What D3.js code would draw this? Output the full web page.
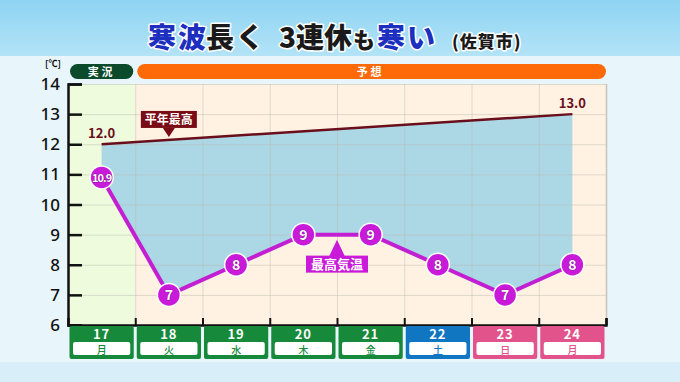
<!DOCTYPE html>
<html>
<head>
<meta charset="utf-8">
<script src="https://cdn.jsdelivr.net/npm/d3@7"></script>
<style>
  body { margin: 0; }
  svg { display: block; font-family: "Noto Sans CJK JP", "Noto Sans", sans-serif; }
</style>
</head>
<body>
<svg id="chart" width="680" height="382"></svg>
<script>
// data
const dates = ["17", "18", "19", "20", "21", "22", "23", "24"];
const weekdays = ["月", "火", "水", "木", "金", "土", "日", "月"];
const dayKind = ["week", "week", "week", "week", "week", "sat", "hol", "hol"];
const maxTemp = [10.9, 7, 8, 9, 9, 8, 7, 8];
const maxLabels = ["10.9", "7", "8", "9", "9", "8", "7", "8"];
const normalHigh = [{d: "17", v: 12.0}, {d: "24", v: 13.0}];
const yTicks = [6, 7, 8, 9, 10, 11, 12, 13, 14];

const svg = d3.select("#chart");
const W = 680, H = 382;
const pLeft = 68, pRight = 606, pTop = 84, pBottom = 325;

const defs = svg.append("defs");
const grad = defs.append("linearGradient").attr("id", "sky").attr("x1", 0).attr("y1", 0).attr("x2", 0).attr("y2", 1);
grad.append("stop").attr("offset", "0%").attr("stop-color", "#8ed4f2");
grad.append("stop").attr("offset", "100%").attr("stop-color", "#b3e3f7");

// background
svg.append("rect").attr("width", W).attr("height", H).attr("fill", "#e8f6fc");
svg.append("rect").attr("width", W).attr("height", 56).attr("fill", "url(#sky)");
svg.append("rect").attr("y", 362).attr("width", W).attr("height", 20).attr("fill", "#d8eef9");

// title (each piece placed where it sits in the picture)
const parts = [
  {t: "寒波", c: "#1c2fbf", s: 28, x: 148, ls: 2},
  {t: "長く", c: "#1a1a1a", s: 28, x: 206, ls: 2},
  {t: "3連休", c: "#1a1a1a", s: 28, x: 279, ls: 0},
  {t: "も", c: "#1a1a1a", s: 22, x: 353, ls: 0},
  {t: "寒い", c: "#1c2fbf", s: 28, x: 377, ls: 2},
  {t: "(佐賀市)", c: "#1a1a1a", s: 17, x: 452, ls: 1}
];
svg.append("g").selectAll("text").data(parts).join("text")
  .attr("x", p => p.x).attr("y", 48)
  .attr("font-size", p => p.s).attr("font-weight", 900).attr("fill", p => p.c)
  .attr("letter-spacing", p => p.ls)
  .attr("stroke", "#fff").attr("stroke-width", 3).attr("paint-order", "stroke")
  .attr("stroke-linejoin", "round")
  .text(p => p.t);

const x = d3.scaleBand().domain(dates).range([pLeft, pRight]);
const y = d3.scaleLinear().domain([6, 14]).range([pBottom, pTop]);
const cx = d => x(d) + x.bandwidth() / 2;

// column backgrounds
svg.append("g").selectAll("rect").data(dates).join("rect")
  .attr("x", d => x(d)).attr("y", pTop).attr("width", x.bandwidth()).attr("height", pBottom - pTop)
  .attr("fill", (d, i) => i === 0 ? "#eefbdc" : "#fff2e2");

// blue area between normal line and max temps
const areaPts = normalHigh.map(p => [cx(p.d), y(p.v)])
  .concat(dates.map((d, i) => [cx(d), y(maxTemp[i])]).reverse());
svg.append("path").attr("d", d3.line()(areaPts) + "Z").attr("fill", "#acd7e5");

// grid
const grid = svg.append("g").attr("stroke", "#b7b7ad").attr("stroke-opacity", 0.45).attr("stroke-width", 1);
grid.selectAll(".h").data(yTicks.slice(1)).join("line")
  .attr("x1", pLeft).attr("x2", pRight).attr("y1", d => y(d) + 0.5).attr("y2", d => y(d) + 0.5);
grid.selectAll(".v").data(dates.slice(1)).join("line")
  .attr("x1", d => x(d) + 0.5).attr("x2", d => x(d) + 0.5).attr("y1", pTop).attr("y2", pBottom);
svg.append("line").attr("x1", pRight + 0.5).attr("x2", pRight + 0.5).attr("y1", pTop).attr("y2", pBottom)
  .attr("stroke", "#c7c2ba").attr("stroke-width", 1.5);

// y axis
const yAxis = svg.append("g").attr("transform", `translate(${pLeft},0)`)
  .call(d3.axisRight(y).tickValues(yTicks).tickSize(14).tickFormat(""));
yAxis.select(".domain").attr("stroke", "#111").attr("stroke-width", 2.5);
yAxis.selectAll(".tick line").attr("stroke", "#111").attr("stroke-width", 2.5);
svg.append("g").selectAll("text").data(yTicks).join("text")
  .attr("x", pLeft - 8).attr("y", d => y(d) + 6).attr("text-anchor", "end")
  .attr("font-family", "'Noto Sans', sans-serif")
  .attr("font-size", 17).attr("font-weight", 500).attr("fill", "#111").text(d => d);
svg.append("text").attr("x", 53).attr("y", 67).attr("text-anchor", "middle")
  .attr("font-size", 9).attr("font-weight", 700).attr("fill", "#111").text("[℃]");

// x axis line + ticks
const xAxis = svg.append("g").attr("transform", `translate(0,${pBottom})`)
  .call(d3.axisTop(d3.scaleLinear().domain([0, dates.length]).range([pLeft, pRight]))
    .tickValues(d3.range(1, dates.length + 1)).tickSize(7).tickFormat(""));
xAxis.select(".domain").attr("stroke", "#111").attr("stroke-width", 2.5);
xAxis.selectAll(".tick line").attr("stroke", "#111").attr("stroke-width", 2);

// header pills
svg.append("rect").attr("x", x("17") + 2).attr("y", 64).attr("width", x.bandwidth() - 4).attr("height", 15)
  .attr("rx", 7.5).attr("fill", "#0c4a2c");
svg.append("text").attr("x", cx("17")).attr("y", 76).attr("text-anchor", "middle")
  .attr("font-size", 11).attr("font-weight", 700).attr("fill", "#fff").attr("letter-spacing", 3).text("実況");
svg.append("rect").attr("x", x("18") + 2).attr("y", 64).attr("width", pRight - x("18") - 2).attr("height", 15)
  .attr("rx", 7.5).attr("fill", "#ff6a08");
svg.append("text").attr("x", (x("18") + pRight) / 2).attr("y", 76).attr("text-anchor", "middle")
  .attr("font-size", 11).attr("font-weight", 700).attr("fill", "#fff").attr("letter-spacing", 3).text("予想");

// date boxes
const kindColor = {week: "#16893b", sat: "#1176c2", hol: "#e2538b"};
const db = svg.append("g").selectAll("g").data(dates).join("g")
  .attr("transform", d => `translate(${x(d)},0)`);
db.append("rect").attr("x", 1.5).attr("y", 326).attr("width", x.bandwidth() - 3).attr("height", 33)
  .attr("rx", 2).attr("fill", (d, i) => kindColor[dayKind[i]]);
db.append("rect").attr("x", 5).attr("y", 342).attr("width", x.bandwidth() - 10).attr("height", 13)
  .attr("rx", 2).attr("fill", "#fff");
db.append("text").attr("x", x.bandwidth() / 2).attr("y", 339).attr("text-anchor", "middle")
  .attr("font-size", 13).attr("font-weight", 700).attr("fill", "#fff").attr("letter-spacing", 1).text(d => d);
db.append("text").attr("x", x.bandwidth() / 2).attr("y", 354).attr("text-anchor", "middle")
  .attr("font-size", 10).attr("font-weight", 500).attr("fill", (d, i) => kindColor[dayKind[i]])
  .text((d, i) => weekdays[i]);

// normal high line
const nLine = d3.line().x(p => cx(p.d)).y(p => y(p.v));
svg.append("path").attr("d", nLine(normalHigh)).attr("stroke", "#6a0e1c").attr("stroke-width", 2.5).attr("fill", "none");
svg.append("g").selectAll("text").data(normalHigh).join("text")
  .attr("x", p => cx(p.d)).attr("y", p => y(p.v) - 6).attr("text-anchor", "middle")
  .attr("font-size", 13).attr("font-weight", 700).attr("fill", "#6a0e1c")
  .text(p => p.v.toFixed(1));

// 平年最高 callout
const nScale = d3.scaleLinear().domain([cx("17"), cx("24")]).range([y(12), y(13)]);
const calloutX = cx("18");
const ly = nScale(calloutX);
svg.append("path")
  .attr("d", `M${calloutX - 6},${ly - 12} L${calloutX + 6},${ly - 12} L${calloutX},${ly - 3} Z`)
  .attr("fill", "#7a0c16");
svg.append("rect").attr("x", calloutX - 28).attr("y", ly - 29).attr("width", 56).attr("height", 17).attr("fill", "#7a0c16");
svg.append("text").attr("x", calloutX).attr("y", ly - 16).attr("text-anchor", "middle")
  .attr("font-size", 12).attr("font-weight", 700).attr("fill", "#fff").text("平年最高");

// max temp line
const mLine = d3.line().x((d, i) => cx(dates[i])).y(d => y(d));
svg.append("path").attr("d", mLine(maxTemp)).attr("stroke", "#c21fd3").attr("stroke-width", 4).attr("fill", "none");
const pts = svg.append("g").selectAll("g").data(maxTemp).join("g")
  .attr("transform", (d, i) => `translate(${cx(dates[i])},${y(d)})`);
pts.append("circle").attr("r", 11.5).attr("fill", "#c81ad8").attr("stroke", "#fff").attr("stroke-width", 1.5);
pts.append("text").attr("y", 5).attr("text-anchor", "middle")
  .attr("font-size", (d, i) => maxLabels[i].length > 2 ? 11 : 14).attr("font-weight", 700)
  .attr("letter-spacing", (d, i) => maxLabels[i].length > 2 ? -1 : 0)
  .attr("fill", "#fff").attr("stroke", "#5a0a66").attr("stroke-width", 0.6).attr("paint-order", "stroke")
  .text((d, i) => maxLabels[i]);

// 最高気温 callout
const mx = (cx("20") + cx("21")) / 2, my = y(9);
svg.append("path").attr("d", `M${mx},${my + 5} L${mx + 8},${my + 22} L${mx - 8},${my + 22} Z`).attr("fill", "#c81ad8");
svg.append("rect").attr("x", mx - 31).attr("y", my + 21).attr("width", 62).attr("height", 17).attr("fill", "#c81ad8");
svg.append("text").attr("x", mx).attr("y", my + 34.5).attr("text-anchor", "middle")
  .attr("font-size", 13).attr("font-weight", 700).attr("fill", "#fff").text("最高気温");
</script>
</body>
</html>
